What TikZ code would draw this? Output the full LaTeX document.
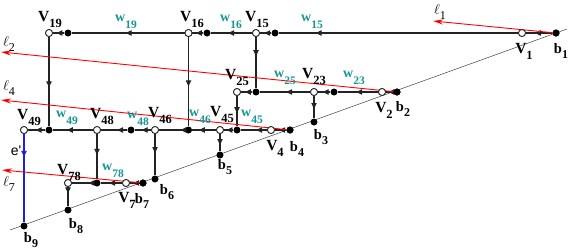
\documentclass[tikz,border=0pt]{standalone}
\usepackage{fontspec}
\setmainfont{Liberation Serif}
\newfontfamily\helvfam{Liberation Sans}
\usetikzlibrary{arrows.meta,calc}
\definecolor{wcol}{RGB}{20,150,150}
\definecolor{ecol}{RGB}{35,35,35}
\definecolor{bluel}{RGB}{30,30,230}
\newcommand{\Vlab}[1]{\bfseries\fontsize{15.5}{15.5}\selectfont V\raisebox{-6pt}{\fontsize{12.5}{12.5}\selectfont #1}}
\newcommand{\wlab}[1]{\color{wcol}\bfseries\fontsize{14}{14}\selectfont w\raisebox{-7pt}{\fontsize{11.5}{11.5}\selectfont #1}}
\newcommand{\blab}[1]{\bfseries\fontsize{14.5}{14.5}\selectfont b\raisebox{-5pt}{\fontsize{12}{12}\selectfont #1}}
\newcommand{\llab}[1]{\fontsize{14.5}{14.5}\selectfont$\ell$\raisebox{-4.5pt}{\fontsize{12}{12}\selectfont #1}}
\tikzset{
  ov/.style={circle,draw=ecol,fill=white,line width=0.8pt,inner sep=0pt,minimum size=7pt},
  dv/.style={circle,fill=black,inner sep=0pt,minimum size=7pt},
  edge/.style={draw=ecol,line width=1.1pt},
  tipar/.style={-{Latex[length=7pt,width=6pt]}},
  redl/.style={draw=red,line width=0.9pt,-{Stealth[length=10pt,width=5pt]}},
  lab/.style={inner sep=0pt,anchor=center}
}
% edge from #2 to #3 with arrow tip at fraction #4 (colour #1)
\newcommand{\edg}[4][ecol]{%
  \draw[edge,draw=#1] (#2) -- (#3);
  \draw[edge,draw=#1,fill=#1,tipar] (#2) -- ($(#2.center)!#4!(#3.center)$);}
\begin{document}
\begin{tikzpicture}[x=1pt,y=-1pt]
\useasboundingbox (0,0) rectangle (570,250);
% baseline
\coordinate (dA) at (10,230);
\coordinate (dB) at (567,29);
\draw[black!75,line width=0.5pt] (dA) -- (dB);
% red line tips
\coordinate (t1) at (433,21);
\coordinate (t2) at (1,52);
\coordinate (t4) at (1,100);
\coordinate (t7) at (2,170);
% row 1
\node[dv] (b1) at (556,33) {};
\node[ov] (V1) at (522,33) {};
\node[dv] (d15) at (275,33) {};
\node[ov] (V15) at (256,33) {};
\node[dv] (d16) at (207,33) {};
\node[ov] (V16) at (188.5,33) {};
\node[dv] (d19) at (68,33) {};
\node[ov] (V19) at (49,33) {};
% row 2
\node[dv] (b2) at (397,92) {};
\node[ov] (V2) at (382,92) {};
\node[dv] (d23) at (334,92) {};
\node[ov] (V23) at (314,92) {};
\node[dv] (j25) at (256,92) {};
\node[ov] (V25) at (237,92) {};
\node[dv] (b3) at (314,122) {};
% row 3
\node[dv] (b4) at (290,130) {};
\node[ov] (V4) at (271,130) {};
\node[dv] (j45) at (237,130) {};
\node[ov] (V45) at (220,130) {};
\node[dv] (j46) at (188.5,130) {};
\node[ov] (V46) at (155,130) {};
\node[dv] (d48) at (131,130) {};
\node[ov] (V48) at (97,130) {};
\node[dv] (j49) at (49,130) {};
\node[ov] (V49) at (24,130) {};
\node[dv] (b5) at (220,155) {};
\node[dv] (b6) at (155,179) {};
% row 4
\node[dv] (b7) at (143,183) {};
\node[ov] (V7) at (126,183) {};
\node[dv] (j78) at (97,183) {};
\node[ov] (V78) at (68,183) {};
\node[dv] (b8) at (68,210) {};
\node[dv] (b9) at (24,226) {};
% edges row 1
\edg{b1}{V1}{0.65}
\edg{V1}{d15}{0.84}
\edg{d15}{V15}{0.62}
\edg{V15}{d16}{0.59}
\edg{d16}{V16}{0.66}
\edg{V16}{d19}{0.53}
\edg{d19}{V19}{0.66}
% edges row 2
\edg{b2}{V2}{0.65}
\edg{V2}{d23}{0.56}
\edg{d23}{V23}{0.62}
\edg{V23}{j25}{0.5}
\edg{j25}{V25}{0.64}
% edges row 3
\edg{b4}{V4}{0.62}
\edg{V4}{j45}{0.47}
\edg{j45}{V45}{0.68}
\edg{V45}{j46}{0.7}
\edg{j46}{V46}{0.27}
\edg{V46}{d48}{0.6}
\edg{d48}{V48}{0.44}
\edg{V48}{j49}{0.65}
\edg{j49}{V49}{0.58}
% edges row 4
\edg{b7}{V7}{0.64}
\edg{V7}{j78}{0.62}
\edg{j78}{V78}{0.33}
% verticals
\edg{V15}{j25}{0.41}
\edg{V19}{j49}{0.57}
\edg{V16}{j46}{0.56}
\edg{V25}{j45}{0.58}
\edg{V23}{b3}{0.6}
\edg{V45}{b5}{0.64}
\edg{V46}{b6}{0.49}
\edg{V48}{j78}{0.49}
\edg{V78}{b8}{0.42}
\edg[bluel]{V49}{b9}{0.29}
% red lines
\draw[redl] (b1) -- (t1);
\draw[redl] (b2) -- (t2);
\draw[redl] (b4) -- (t4);
\draw[redl] (b7) -- (t7);
% nodes on top of the red lines
\foreach \n in {V1,V15,V16,V19,V2,V23,V25,V4,V45,V46,V48,V49,V7,V78}
  \draw[ecol,fill=white,line width=0.8pt] (\n.center) circle (3.5pt);
\foreach \n in {b1,b2,b4,b7}
  \fill[black] (\n.center) circle (3.5pt);
% labels
\node[lab] (LV19) at (50,19) {\Vlab{19}};
\node[lab] (LV16) at (192,19) {\Vlab{16}};
\node[lab] (LV15) at (257,19) {\Vlab{15}};
\node[lab] (Lw19) at (126,22) {\wlab{19}};
\node[lab] (Lw16) at (231,22) {\wlab{16}};
\node[lab] (Lw15) at (312,22) {\wlab{15}};
\node[lab] (LV1) at (524,51) {\Vlab{1}};
\node[lab] (Lb1) at (561,51) {\blab{1}};
\node[lab] (Ll1) at (440,12) {\llab{1}};
\node[lab] (LV25) at (237,77) {\Vlab{25}};
\node[lab] (Lw25) at (285,78) {\wlab{25}};
\node[lab] (LV23) at (314,76) {\Vlab{23}};
\node[lab] (Lw23) at (354,78) {\wlab{23}};
\node[lab] (LV2) at (384,110) {\Vlab{2}};
\node[lab] (Lb2) at (403,109) {\blab{2}};
\node[lab] (Lb3) at (321,137) {\blab{3}};
\node[lab] (LV45) at (222,114) {\Vlab{45}};
\node[lab] (Lw45) at (252,117) {\wlab{45}};
\node[lab] (Lw46) at (200,117) {\wlab{46}};
\node[lab] (LV46) at (160,115) {\Vlab{46}};
\node[lab] (LV4) at (275,148) {\Vlab{4}};
\node[lab] (Lb4) at (297,149) {\blab{4}};
\node[lab] (Lb5) at (225,167) {\blab{5}};
\node[lab] (LV49) at (29,117) {\Vlab{49}};
\node[lab] (Lw49) at (67,118) {\wlab{49}};
\node[lab] (LV48) at (102,116) {\Vlab{48}};
\node[lab] (Lw48) at (138,119) {\wlab{48}};
\node[lab] (Ll2) at (9,44) {\llab{2}};
\node[lab] (Ll4) at (9,88) {\llab{4}};
\node[lab] (Le) at (16,151) {\helvfam\fontsize{14}{14}\selectfont e\textquotesingle};
\node[lab] (LV78) at (69,172) {\Vlab{78}};
\node[lab] (Lw78) at (113,171) {\wlab{78}};
\node[lab] (LV7) at (127,200) {\Vlab{7}};
\node[lab] (Lb7) at (142,201) {\blab{7}};
\node[lab] (Ll7) at (9,184) {\llab{7}};
\node[lab] (Lb6) at (167,192) {\blab{6}};
\node[lab] (Lb8) at (76,226) {\blab{8}};
\node[lab] (Lb9) at (31,240) {\blab{9}};
\end{tikzpicture}
\end{document}
